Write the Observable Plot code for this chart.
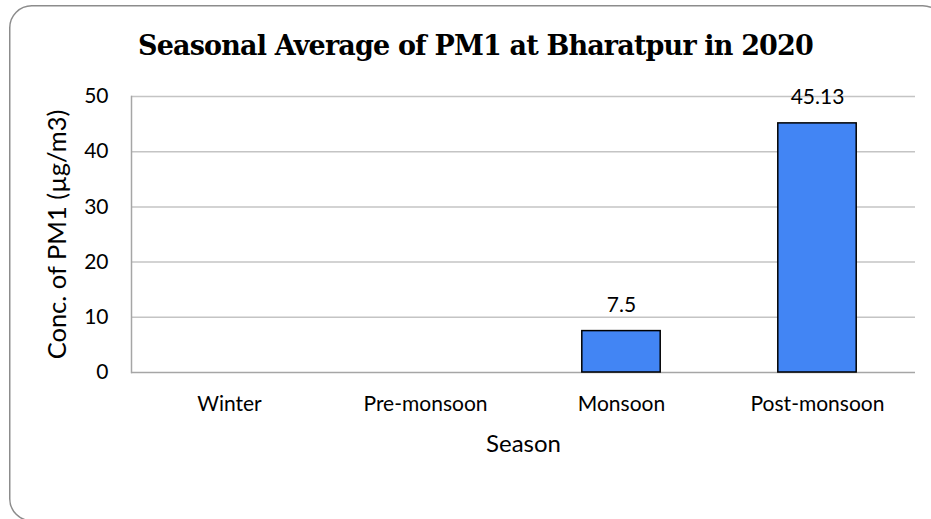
<!DOCTYPE html>
<html>
<head>
<meta charset="utf-8">
<script src="https://cdn.jsdelivr.net/npm/d3@7"></script>
<script src="https://cdn.jsdelivr.net/npm/@observablehq/plot@0.6"></script>
<style>
  html, body { margin: 0; padding: 0; background: #fff; overflow: hidden; width: 931px; height: 519px; }
  #wrap { position: relative; width: 931px; height: 519px; overflow: hidden; }
  #border { position: absolute; left: 0; top: 0; }
  #title { position: absolute; left: 0; top: 32px; width: 931px; padding-left: 20px; box-sizing: border-box;
           text-align: center; font-family: "DejaVu Serif", "Liberation Serif", serif; font-weight: bold;
           font-size: 27px; line-height: 27px; color: #000; white-space: nowrap; }
  #chart { position: absolute; left: 0; top: 0; }
  #chart g[aria-label="y-axis label"] text { font-size: 25.5px; }
  #chart g[aria-label="x-axis label"] text { font-size: 24px; }
</style>
</head>
<body>
<div id="wrap">
  <svg id="border" width="931" height="519" viewBox="0 0 931 519" style="overflow:hidden">
    <path d="M 31.75 520.75 A 22 22 0 0 1 9.75 498.75 L 9.75 27.75 A 22 22 0 0 1 31.75 5.75 L 922.75 5.75 A 22 22 0 0 1 931 7.4" fill="none" stroke="#8c8c8c" stroke-width="1.5"></path>
  </svg>
  <div id="title"><span id="titleText">Seasonal Average of PM1 at Bharatpur in 2020</span></div>
  <div id="chart"></div>
</div>
<script>
const seasons = ["Winter", "Pre-monsoon", "Monsoon", "Post-monsoon"];
const values = [null, null, 7.5, 45.13];
const valueLabels = [null, null, "7.5", "45.13"];
const yTicks = [0, 10, 20, 30, 40, 50];
const xTitle = "Season";
const yTitle = "Conc. of PM1 (µg/m3)";

const rows = seasons.map((s, i) => ({season: s, value: values[i], label: valueLabels[i]}));
const bars = rows.filter(d => d.value != null);

const chart = Plot.plot({
  width: 931,
  height: 519,
  marginLeft: 131,
  marginRight: 16,
  marginTop: 96,
  marginBottom: 147,
  style: {fontFamily: "Lato, 'Noto Sans', sans-serif", fontSize: "21px", color: "#000", background: "transparent"},
  x: {domain: seasons, padding: 0},
  y: {domain: [0, 50]},
  marks: [
    Plot.gridY(yTicks.filter(d => d > 0), {stroke: "#c4c4c4", strokeOpacity: 1, strokeWidth: 1.5}),
    Plot.frame({anchor: "left", stroke: "#a6a6a6", strokeWidth: 1.5}),
    Plot.ruleY([0], {stroke: "#a6a6a6", strokeWidth: 1.5}),
    Plot.barY(bars, {x: "season", y: "value", fill: "#4285f4", stroke: "#000", strokeWidth: 1.5, insetLeft: 58.8, insetRight: 58.8}),
    Plot.text(bars, {x: "season", y: "value", text: "label", dy: -26, lineAnchor: "middle", fontSize: 21, fill: "#000"}),
    Plot.axisY(yTicks, {tickSize: 0, tickPadding: 23, label: yTitle, labelAnchor: "center", labelArrow: "none", labelOffset: 84, fontSize: 21}),
    Plot.axisX({tickSize: 0, tickPadding: 24, label: xTitle, labelAnchor: "center", labelArrow: "none", labelOffset: 79, fontSize: 21})
  ]
});
document.getElementById("chart").appendChild(chart);

// fit the title to the reference width (about 675px) with letter spacing
const title = document.getElementById("title");
const span = document.getElementById("titleText");
const txt = span.textContent;
const w = span.getBoundingClientRect().width;
const ls = (675 - w) / txt.length;
title.style.letterSpacing = ls + "px";
</script>
</body>
</html>
